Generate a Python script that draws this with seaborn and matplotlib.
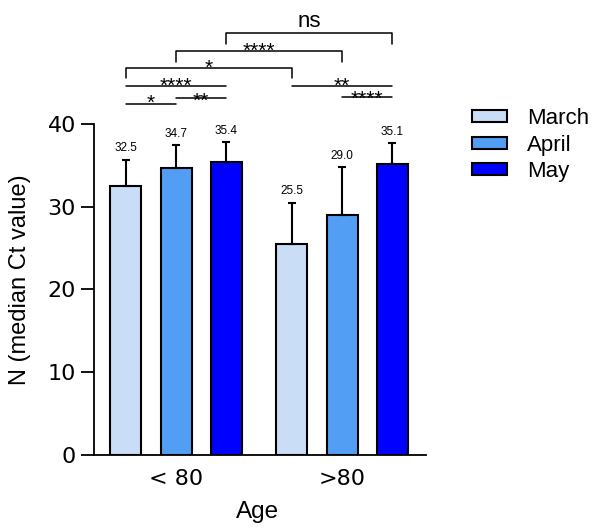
import pandas as pd
import numpy as np
import matplotlib
matplotlib.use('Agg')
import matplotlib.pyplot as plt
import seaborn as sns

sns.set_style('ticks')
plt.rcParams['font.family'] = ['Liberation Sans', 'DejaVu Sans']
plt.rcParams['text.color'] = 'black'
plt.rcParams['axes.labelcolor'] = 'black'
plt.rcParams['xtick.color'] = 'black'
plt.rcParams['ytick.color'] = 'black'
plt.rcParams['axes.edgecolor'] = 'black'

# Data
ages = ['< 80', '>80']
months = ['March', 'April', 'May']
march_vals = [32.5, 25.5]
april_vals = [34.7, 29.0]
may_vals = [35.4, 35.1]
# upper error (SD) per bar
march_err = [3.2, 5.0]
april_err = [2.7, 5.8]
may_err = [2.4, 2.6]

colors = {'March': '#C9DDF6', 'April': '#529EF5', 'May': '#0000FF'}

df = pd.DataFrame({
    'Age': ages * 3,
    'Month': ['March'] * 2 + ['April'] * 2 + ['May'] * 2,
    'value': march_vals + april_vals + may_vals,
    'err': march_err + april_err + may_err,
})

fig, ax = plt.subplots(figsize=(5.92, 5.28), dpi=100)
ax.set_position([0.1588, 0.1383, 0.5608, 0.627])

sns.barplot(data=df, x='Age', y='value', hue='Month', order=ages,
            hue_order=months, palette=colors, saturation=1, width=0.904, gap=0.38,
            edgecolor='black', linewidth=1.5, errorbar=None, legend=False, ax=ax)

bar_conts = list(ax.containers)

# collect bar centres
centres = {}
for month, cont in zip(months, bar_conts):
    for age, patch in zip(ages, cont.patches):
        centres[(month, age)] = patch.get_x() + patch.get_width() / 2

for month, cont in zip(months, bar_conts):
    sub = df[df['Month'] == month]
    xs = [p.get_x() + p.get_width() / 2 for p in cont.patches]
    ys = sub['value'].values
    errs = sub['err'].values
    ax.errorbar(xs, ys, yerr=[np.zeros_like(errs), errs], fmt='none',
                ecolor='black', elinewidth=1.5, capsize=2.6, capthick=1.5, zorder=1)
    for x, y, e in zip(xs, ys, errs):
        ax.annotate(f'{y:.1f}', (x, y + e), xytext=(0, 6), textcoords='offset points',
                    ha='center', va='baseline', fontsize=8.5)

order = [(m, a) for a in ages for m in months]
bx = [centres[k] for k in order]

# significance comparisons: (i, j, line y, text baseline y, label, bracket)
comparisons = [
    (0, 1, 42.4, 41.8, '*', False),
    (1, 2, 43.1, 42.05, '**', False),
    (0, 2, 44.6, 43.9, '****', False),
    (0, 3, 46.8, 46.0, '*', True),
    (1, 4, 48.8, 48.1, '****', True),
    (2, 5, 51.0, 51.76, 'ns', True),
    (3, 5, 44.6, 43.9, '**', False),
    (4, 5, 43.3, 42.3, '****', False),
]
for i, j, yl, yt, lab, bracket in comparisons:
    if bracket:
        ax.plot([bx[i], bx[i], bx[j], bx[j]], [yl - 1.3, yl, yl, yl - 1.3],
                color='black', lw=1.1, clip_on=False)
    else:
        ax.plot([bx[i], bx[j]], [yl, yl], color='black', lw=1.1, clip_on=False)
    ax.text((bx[i] + bx[j]) / 2, yt, lab, ha='center', va='baseline',
            fontsize=16 if lab == 'ns' else 15, clip_on=False)

ax.set_ylim(0, 40)
ax.set_xlim(-0.494, 1.506)
ax.set_yticks([0, 10, 20, 30, 40])
ax.tick_params(axis='y', length=9.5, width=1.3, pad=3.5, labelsize=16,
               labelfontfamily='DejaVu Sans')
ax.tick_params(axis='x', length=0, pad=10, labelsize=16,
               labelfontfamily='DejaVu Sans')
for s in ['left', 'bottom']:
    ax.spines[s].set_linewidth(1.3)
sns.despine(ax=ax)

ax.set_ylabel('N (median Ct value)', fontsize=17)
ax.set_xlabel('Age', fontsize=17.5)
ax.yaxis.set_label_coords(-0.19, 0.53)
ax.xaxis.set_label_coords(0.494, -0.14)

handles = [cont.patches[0] for cont in bar_conts]
ax.legend(handles, months, loc='upper left', bbox_to_anchor=(0.797, 0.795),
          bbox_transform=fig.transFigure, frameon=False, fontsize=16,
          handlelength=1.58, handleheight=0.45, handletextpad=0.9,
          labelspacing=0.25, borderpad=0, borderaxespad=0)

plt.savefig('out.png', dpi=100)
